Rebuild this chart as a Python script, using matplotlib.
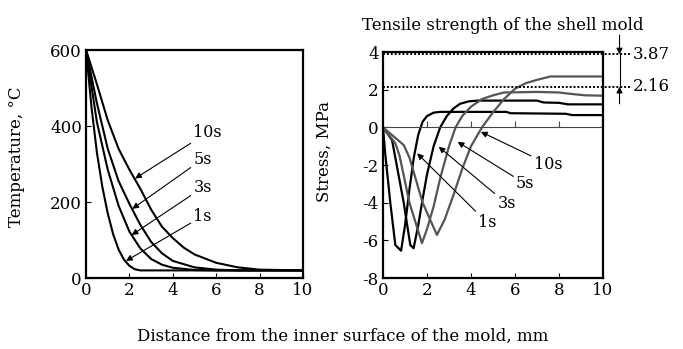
"""Temperature and stress profiles across the shell mold."""

import matplotlib

matplotlib.use("Agg")
import matplotlib.pyplot as plt
from matplotlib.markers import TICKUP
from matplotlib.ticker import FuncFormatter

# the reference text is a wide serif; DejaVu Serif matches its footprint best
plt.rcParams["font.family"] = ["DejaVu Serif"]
plt.rcParams["font.size"] = 12

# --- temperature profiles (left) ---
temp_1s_x = [0, 0.25, 0.5, 0.75, 1.0, 1.25, 1.5, 1.75, 2.0, 2.25, 2.5, 10]
temp_1s_y = [600, 450, 330, 240, 170, 115, 75, 48, 32, 23, 20, 20]
temp_3s_x = [0, 0.5, 1.0, 1.5, 2.0, 2.5, 3.0, 3.5, 4.0, 5.0, 6.0, 10]
temp_3s_y = [600, 410, 285, 190, 122, 78, 50, 35, 27, 21, 20, 20]
temp_5s_x = [0, 0.5, 1.0, 1.5, 2.0, 2.5, 3.0, 3.5, 4.0, 5.0, 6.0, 7.0, 10]
temp_5s_y = [600, 460, 340, 255, 195, 140, 95, 65, 45, 28, 22, 20, 20]
temp_10s_x = [0, 0.5, 1.0, 1.5, 2.0, 2.5, 3.0, 3.5, 4.0, 4.5, 5.0, 6.0, 7.0, 8.0, 10]
temp_10s_y = [600, 510, 415, 340, 285, 235, 180, 135, 105, 80, 62, 40, 28, 22, 20]

# --- stress profiles (right) ---
stress_1s_x = [0, 0.1, 0.33, 0.56, 0.82, 1.0, 1.2, 1.4, 1.6, 1.8, 2.0, 2.3, 2.6, 5.6, 5.8, 8.3, 8.6, 10]
stress_1s_y = [0, -1.4, -4.0, -6.25, -6.55, -5.2, -3.3, -1.6, -0.4, 0.3, 0.6, 0.78, 0.82, 0.82, 0.75, 0.72, 0.65, 0.65]
stress_3s_x = [0, 0.41, 0.94, 1.24, 1.39, 1.6, 1.8, 2.0, 2.3, 2.6, 2.9, 3.2, 3.5, 3.9, 4.3, 7.0, 7.3, 8.0, 8.4, 10]
stress_3s_y = [0, -0.68, -4.0, -6.25, -6.42, -5.2, -3.8, -2.5, -1.0, 0.0, 0.6, 1.0, 1.25, 1.38, 1.42, 1.42, 1.32, 1.3, 1.22, 1.22]
stress_5s_x = [0, 0.56, 0.75, 1.2, 1.77, 2.0, 2.3, 2.6, 3.0, 3.3, 3.6, 4.0, 4.5, 5.0, 5.5, 7.0, 8.0, 8.5, 9.2, 10]
stress_5s_y = [0, -0.85, -1.5, -4.0, -6.15, -5.4, -4.2, -2.7, -1.0, 0.0, 0.6, 1.1, 1.5, 1.7, 1.85, 1.88, 1.85, 1.78, 1.7, 1.68]
stress_10s_x = [0, 0.94, 1.2, 1.8, 2.45, 2.8, 3.2, 3.6, 4.0, 4.5, 5.0, 5.5, 6.0, 6.5, 7.0, 7.6, 10]
stress_10s_y = [0, -0.94, -1.6, -4.0, -5.71, -4.9, -3.6, -2.2, -1.0, 0.0, 0.8, 1.5, 2.05, 2.35, 2.52, 2.7, 2.7]

tensile_strength = [3.87, 2.16]
zero_ticks = [2, 4, 6, 8]
labels = ["1s", "3s", "5s", "10s"]
colors = ["black", "black", "#555555", "#555555"]

# arrow annotations: (text position, arrow tip)
temp_notes = [((4.95, 163), (1.84, 45)), ((4.95, 238), (2.1, 113)),
              ((4.95, 313), (2.13, 182)), ((4.95, 383), (2.26, 262))]
stress_notes = [((4.3, -5.05), (1.55, -1.38)), ((5.2, -4.05), (2.53, -1.03)),
                ((6.05, -3.0), (3.39, -0.77)), ((6.85, -1.95), (4.45, -0.24))]

fig = plt.figure(figsize=(6.83, 3.49), dpi=100)
ax1 = fig.add_axes([0.126, 0.2034, 0.3177, 0.6533])
ax2 = fig.add_axes([0.5608, 0.2034, 0.3221, 0.6476])

temps = [(temp_1s_x, temp_1s_y), (temp_3s_x, temp_3s_y),
         (temp_5s_x, temp_5s_y), (temp_10s_x, temp_10s_y)]
for xs, ys in temps:
    ax1.plot(xs, ys, color="black", lw=1.5)

stresses = [(stress_1s_x, stress_1s_y), (stress_3s_x, stress_3s_y),
            (stress_5s_x, stress_5s_y), (stress_10s_x, stress_10s_y)]
for (xs, ys), c in zip(stresses, colors):
    ax2.plot(xs, ys, color=c, lw=1.6)

arrow = dict(arrowstyle="-|>", color="black", lw=0.8, mutation_scale=9,
             shrinkA=0, shrinkB=0)
for (txt, tip), lab in zip(temp_notes, labels):
    ax1.annotate(lab, xy=tip, xytext=txt, ha="left", va="center",
                 fontsize=11.5, arrowprops=arrow)
for (txt, tip), lab in zip(stress_notes, labels):
    ax2.annotate(lab, xy=tip, xytext=txt, ha="left", va="center",
                 fontsize=11.5, arrowprops=arrow)

ax1.set_xlim(0, 10)
ax1.set_ylim(0, 600)
ax1.set_xticks([0, 2, 4, 6, 8, 10])
ax1.set_yticks([0, 200, 400, 600])
ax1.set_ylabel("Temperature, °C")
ax1.yaxis.set_label_coords(-0.281, 0.53)

ax2.set_xlim(0, 10)
ax2.set_ylim(-8, 4)
ax2.set_xticks([0, 2, 4, 6, 8, 10])
ax2.set_yticks([-8, -6, -4, -2, 0, 2, 4])
ax2.yaxis.set_major_formatter(FuncFormatter(lambda v, p: f"{v:.0f}"))
ax2.set_ylabel("Stress, MPa")
ax2.yaxis.set_label_coords(-0.226, 0.56)
ax2.axhline(0, color="#444444", lw=0.8)
# little ticks sitting on the zero line
ax2.plot(zero_ticks, [0] * len(zero_ticks), ls="none", marker=TICKUP, ms=4,
         mew=0.8, color="#444444")

for ax in (ax1, ax2):
    for sp in ax.spines.values():
        sp.set_linewidth(1.6)
    ax.tick_params(direction="in", length=3.5, width=0.8, top=False, right=False,
                   pad=3)

# tensile strength markers
for val in tensile_strength:
    ax2.plot([0, 11.3], [val, val], color="black", lw=1.4, ls=(0, (1, 1)),
             clip_on=False)
    ax2.text(11.35, val, f"{val:.2f}", ha="left", va="center", clip_on=False)
ax2.plot([10.75, 10.75], tensile_strength, color="black", lw=0.8, clip_on=False)
ax2.annotate("", xy=(10.75, tensile_strength[0]), xytext=(10.75, 4.9),
             arrowprops=dict(arrowstyle="-|>", color="black", lw=0.8,
                             mutation_scale=9, shrinkA=0, shrinkB=0),
             annotation_clip=False)
ax2.annotate("", xy=(10.75, tensile_strength[1]), xytext=(10.75, 1.25),
             arrowprops=dict(arrowstyle="-|>", color="black", lw=0.8,
                             mutation_scale=9, shrinkA=0, shrinkB=0),
             annotation_clip=False)

fig.text(0.736, 0.928, "Tensile strength of the shell mold", ha="center",
         va="center")
fig.text(0.502, 0.037, "Distance from the inner surface of the mold, mm",
         ha="center", va="center")

fig.savefig("out.png", dpi=100)
plt.close(fig)
